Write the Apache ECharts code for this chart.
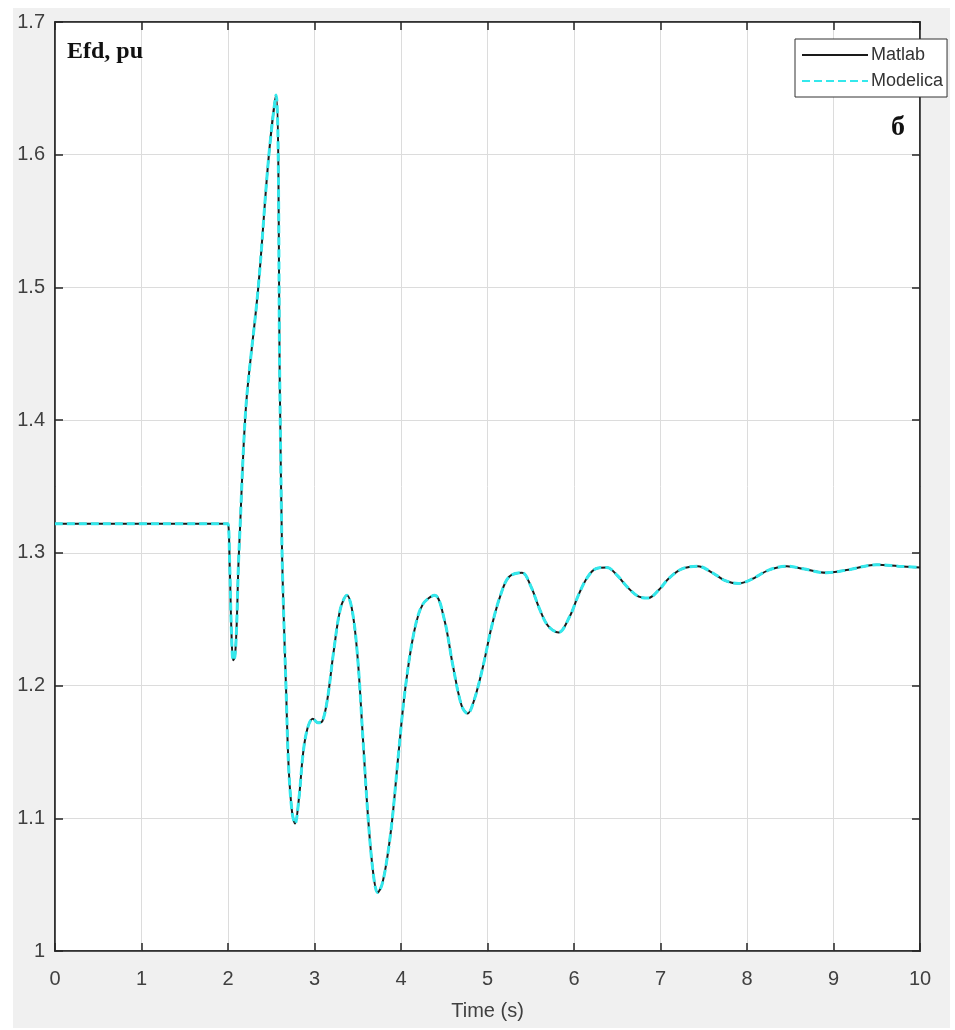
<!DOCTYPE html>
<html>
<head>
<meta charset="utf-8">
<title>Efd, pu</title>
<script src="https://cdn.jsdelivr.net/npm/echarts@6/dist/echarts.min.js"></script>
<style>
  html, body { margin: 0; padding: 0; background: #fff; }
  #chart { width: 955px; height: 1030px; }
</style>
</head>
<body>
<div id="chart"></div>
<script>
// time axis (s) and field voltage (pu)
const timeS = [
  0, 1.98, 2.0, 2.02, 2.04, 2.06, 2.08, 2.10, 2.12, 2.14, 2.18, 2.22, 2.35, 2.47, 2.555,
  2.60, 2.625, 2.65, 2.67, 2.70, 2.74, 2.775, 2.82, 2.87, 2.92, 2.98, 3.04, 3.09, 3.15,
  3.22, 3.30, 3.375, 3.44, 3.50, 3.56, 3.62, 3.68, 3.73, 3.78, 3.84, 3.90, 3.97, 4.05,
  4.15, 4.25, 4.39, 4.50, 4.60, 4.70, 4.77, 4.85, 4.95, 5.05, 5.15, 5.25, 5.40, 5.50,
  5.60, 5.70, 5.82, 5.95, 6.05, 6.15, 6.25, 6.38, 6.50, 6.62, 6.75, 6.86, 6.98, 7.10,
  7.25, 7.43, 7.60, 7.75, 7.90, 8.05, 8.25, 8.46, 8.65, 8.92, 9.15, 9.50, 9.75, 10
];
const efdMatlab = [
  1.322, 1.322, 1.322, 1.29, 1.24, 1.219, 1.222, 1.245, 1.29, 1.32, 1.38, 1.42, 1.50, 1.598, 1.645,
  1.42, 1.30, 1.24, 1.20, 1.14, 1.105, 1.096, 1.115, 1.15, 1.168, 1.175, 1.172, 1.173, 1.19,
  1.225, 1.258, 1.268, 1.255, 1.22, 1.16, 1.10, 1.058, 1.044, 1.050, 1.070, 1.100, 1.148, 1.198,
  1.24, 1.261, 1.268, 1.250, 1.215, 1.185, 1.179, 1.19, 1.215, 1.245, 1.268, 1.282, 1.285, 1.275,
  1.258, 1.245, 1.240, 1.252, 1.268, 1.281, 1.288, 1.289, 1.283, 1.274, 1.267, 1.266, 1.272, 1.281,
  1.288, 1.290, 1.285, 1.279, 1.277, 1.280, 1.287, 1.290, 1.288, 1.285, 1.287, 1.291, 1.290, 1.289
];
// the two simulations overlap everywhere at this scale
const efdModelica = efdMatlab.slice();

const seriesNames = ['Matlab', 'Modelica'];
const xTicks = { min: 0, max: 10, step: 1 };
const yTicks = { min: 1, max: 1.7, step: 0.1 };

const pairs = (ys) => timeS.map((t, i) => [t, ys[i]]);

const chart = echarts.init(document.getElementById('chart'));

const tickFont = { fontFamily: 'Liberation Sans, Arial, sans-serif', fontSize: 20, color: '#404040' };
const axisLineStyle = { color: '#262626', width: 1.5 };

chart.setOption({
  animation: false,
  graphic: [
    { type: 'rect', z: -10, shape: { x: 13, y: 8, width: 937, height: 1020 }, style: { fill: '#f0f0f0' } },
    { type: 'rect', z: -9, shape: { x: 55, y: 22, width: 865, height: 929 }, style: { fill: '#ffffff' } },
    {
      type: 'text', left: 67, top: 40, z: 10,
      style: { text: 'Efd, pu', font: 'bold 24px "Liberation Serif", "Times New Roman", serif', fill: '#111' }
    },
    {
      type: 'text', left: 891, top: 114, z: 10,
      style: { text: 'б', font: 'bold 28px "Liberation Serif", "Times New Roman", serif', fill: '#111' }
    }
  ],
  grid: {
    left: 55, right: 35, top: 22, bottom: 79,
    show: true, backgroundColor: 'transparent', borderColor: '#262626', borderWidth: 1.5
  },
  legend: {
    data: seriesNames,
    orient: 'vertical',
    left: 795, top: 39,
    backgroundColor: '#fff',
    borderColor: '#333', borderWidth: 1,
    padding: [7, 4, 7, 6],
    itemGap: 8,
    itemWidth: 66, itemHeight: 14,
    itemStyle: { opacity: 0 },
    textStyle: { fontFamily: 'Liberation Sans, Arial, sans-serif', fontSize: 18, color: '#333', padding: [0, 0, 0, -2] }
  },
  xAxis: [
    {
      type: 'value', min: xTicks.min, max: xTicks.max, interval: xTicks.step,
      name: 'Time (s)', nameLocation: 'middle', nameGap: 50,
      nameTextStyle: tickFont,
      axisLine: { show: true, onZero: false, lineStyle: axisLineStyle },
      axisTick: { show: true, inside: true, length: 8, lineStyle: axisLineStyle },
      axisLabel: Object.assign({ margin: 18 }, tickFont),
      splitLine: { show: true, lineStyle: { color: '#dcdcdc', width: 1 } }
    },
    {
      type: 'value', position: 'top', min: xTicks.min, max: xTicks.max, interval: xTicks.step,
      axisLine: { show: true, onZero: false, lineStyle: axisLineStyle },
      axisTick: { show: true, inside: true, length: 8, lineStyle: axisLineStyle },
      axisLabel: { show: false },
      splitLine: { show: false }
    }
  ],
  yAxis: [
    {
      type: 'value', min: yTicks.min, max: yTicks.max, interval: yTicks.step,
      axisLine: { show: true, onZero: false, lineStyle: axisLineStyle },
      axisTick: { show: true, inside: true, length: 8, lineStyle: axisLineStyle },
      axisLabel: Object.assign({ margin: 10 }, tickFont),
      splitLine: { show: true, lineStyle: { color: '#dcdcdc', width: 1 } }
    },
    {
      type: 'value', position: 'right', min: yTicks.min, max: yTicks.max, interval: yTicks.step,
      axisLine: { show: true, onZero: false, lineStyle: axisLineStyle },
      axisTick: { show: true, inside: true, length: 8, lineStyle: axisLineStyle },
      axisLabel: { show: false },
      splitLine: { show: false }
    }
  ],
  series: [
    {
      name: seriesNames[0], type: 'line', data: pairs(efdMatlab),
      symbol: 'none', smooth: 0.35, z: 3,
      lineStyle: { color: '#1a1a1a', width: 2 },
      itemStyle: { color: '#1a1a1a' },
      emphasis: { disabled: true }
    },
    {
      name: seriesNames[1], type: 'line', data: pairs(efdModelica),
      symbol: 'none', smooth: 0.35, z: 4,
      lineStyle: { color: '#34e8ec', width: 3, type: [8, 4] },
      itemStyle: { color: '#34e8ec' },
      emphasis: { disabled: true }
    }
  ]
});
</script>
</body>
</html>
